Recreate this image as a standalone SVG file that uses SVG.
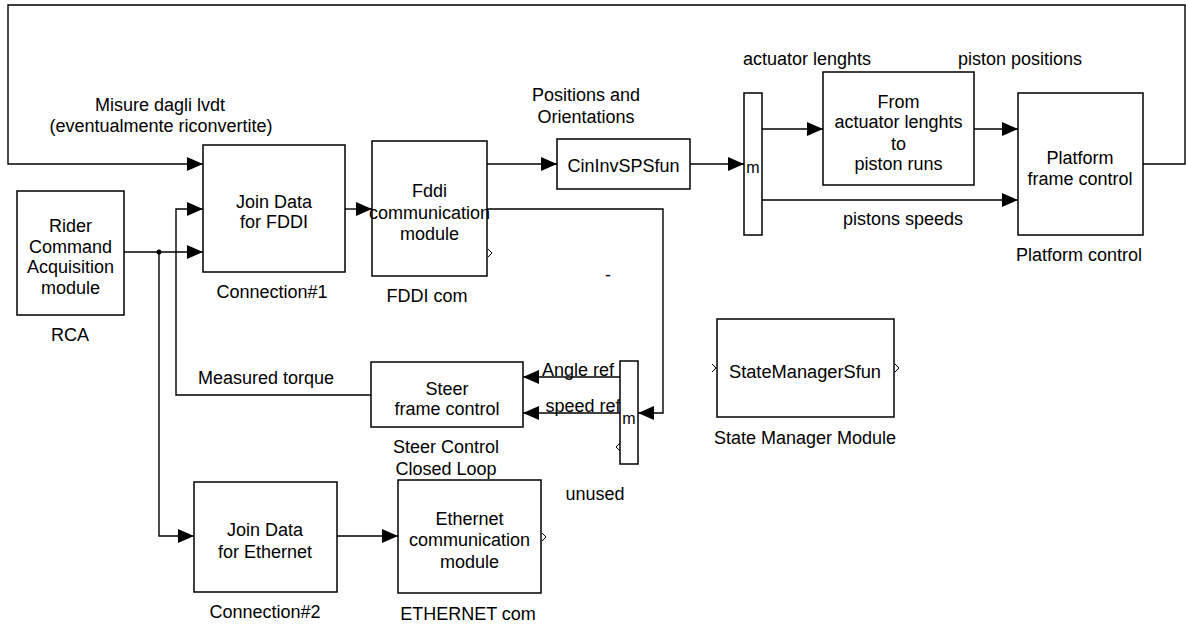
<svg xmlns="http://www.w3.org/2000/svg" width="1186" height="624" viewBox="0 0 1186 624">
<style>
.box{fill:#fff;stroke:#000;stroke-width:1.5}
.ln{fill:none;stroke:#000;stroke-width:1.4}
.port{fill:none;stroke:#000;stroke-width:1}
text{font-family:"Liberation Sans",Arial,sans-serif;font-size:18px;fill:#000;text-anchor:middle}
</style>
<defs>
<marker id="ah" markerUnits="userSpaceOnUse" markerWidth="17" markerHeight="15" refX="16" refY="7" orient="auto">
<path d="M0,0 L16,7 L0,14 z" fill="#000"/>
</marker>
</defs>
<rect width="1186" height="624" fill="#fff"/>
<g id="connectors">
<polyline class="ln" points="1143,164 1185,164 1185,5 8,5 8,164 203,164" marker-end="url(#ah)"/>
<polyline class="ln" points="124,252 203,252" marker-end="url(#ah)"/>
<polyline class="ln" points="159,252 159,536 194,536" marker-end="url(#ah)"/>
<circle cx="159" cy="252" r="2.5" fill="#000"/>
<polyline class="ln" points="371,395 176,395 176,209 203,209" marker-end="url(#ah)"/>
<polyline class="ln" points="345,209 372,209" marker-end="url(#ah)"/>
<polyline class="ln" points="487,164 557,164" marker-end="url(#ah)"/>
<polyline class="ln" points="487,209 663,209 663,413 638,413" marker-end="url(#ah)"/>
<polyline class="ln" points="690,164 744,164" marker-end="url(#ah)"/>
<polyline class="ln" points="762,129 823,129" marker-end="url(#ah)"/>
<polyline class="ln" points="762,200 1018,200" marker-end="url(#ah)"/>
<polyline class="ln" points="974,129 1018,129" marker-end="url(#ah)"/>
<polyline class="ln" points="620,377 523,377" marker-end="url(#ah)"/>
<polyline class="ln" points="620,413 523,413" marker-end="url(#ah)"/>
<polyline class="ln" points="337,536 398,536" marker-end="url(#ah)"/>
<text x="160" y="111">Misure dagli lvdt</text>
<text x="161" y="132">(eventualmente riconvertite)</text>
<text x="586" y="101">Positions and</text>
<text x="586" y="123">Orientations</text>
<text x="807" y="65">actuator lenghts</text>
<text x="1020" y="65">piston positions</text>
<text x="903" y="225">pistons speeds</text>
<text x="266" y="384">Measured torque</text>
<text x="578" y="376">Angle ref</text>
<text x="583" y="412">speed ref</text>
<text x="608" y="281">-</text>
</g>
<g id="rca">
<rect class="box" x="17" y="191" width="107" height="124"/>
<text x="70.5" y="232">Rider</text>
<text x="70.5" y="253">Command</text>
<text x="70.5" y="273">Acquisition</text>
<text x="70.5" y="294">module</text>
<text x="70" y="341">RCA</text>
</g>
<g id="join-fddi">
<rect class="box" x="203" y="145" width="142" height="127"/>
<text x="274" y="208">Join Data</text>
<text x="274" y="228">for FDDI</text>
<text x="272" y="298">Connection#1</text>
</g>
<g id="fddi-com">
<rect class="box" x="372" y="141" width="115" height="135"/>
<text x="429.5" y="197">Fddi</text>
<text x="429.5" y="219">communication</text>
<text x="429.5" y="240">module</text>
<path class="port" d="M488,249 L492,253 L488,257"/>
<text x="427" y="302">FDDI com</text>
</g>
<g id="cininv">
<rect class="box" x="557" y="139" width="133" height="50"/>
<text x="623.5" y="172">CinInvSPSfun</text>
</g>
<g id="mux-top">
<rect class="box" x="744" y="93" width="18" height="142"/>
<text x="753" y="173" style="font-size:16px">m</text>
</g>
<g id="from-act">
<rect class="box" x="823" y="72" width="151" height="113"/>
<text x="898.5" y="108">From</text>
<text x="898.5" y="128">actuator lenghts</text>
<text x="898.5" y="150">to</text>
<text x="898.5" y="170">piston runs</text>
</g>
<g id="platform">
<rect class="box" x="1018" y="93" width="125" height="142"/>
<text x="1080" y="164">Platform</text>
<text x="1080" y="185">frame control</text>
<text x="1079" y="261">Platform control</text>
</g>
<g id="steer">
<rect class="box" x="371" y="362" width="152" height="65"/>
<text x="447" y="395">Steer</text>
<text x="447" y="415">frame control</text>
<text x="446" y="453">Steer Control</text>
<text x="446" y="475">Closed Loop</text>
</g>
<g id="mux-bottom">
<rect class="box" x="620" y="361" width="18" height="103"/>
<text x="629" y="424" style="font-size:16px">m</text>
<path class="port" d="M620,443 L616,447 L620,451"/>
<text x="595" y="500">unused</text>
</g>
<g id="state-manager">
<rect class="box" x="717" y="319" width="177" height="98"/>
<text x="805" y="378" textLength="152" lengthAdjust="spacingAndGlyphs">StateManagerSfun</text>
<path class="port" d="M712,364 L716,368 L712,372"/>
<path class="port" d="M895,364 L899,368 L895,372"/>
<text x="805" y="444">State Manager Module</text>
</g>
<g id="join-eth">
<rect class="box" x="194" y="482" width="143" height="110"/>
<text x="265" y="536">Join Data</text>
<text x="265" y="558">for Ethernet</text>
<text x="265" y="618">Connection#2</text>
</g>
<g id="eth-com">
<rect class="box" x="398" y="480" width="143" height="113"/>
<text x="469.5" y="525">Ethernet</text>
<text x="469.5" y="546">communication</text>
<text x="469.5" y="568">module</text>
<path class="port" d="M542,533 L546,537 L542,541"/>
<text x="468" y="620">ETHERNET com</text>
</g>
</svg>
